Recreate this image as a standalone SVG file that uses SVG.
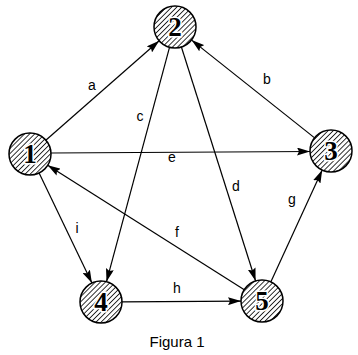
<svg xmlns="http://www.w3.org/2000/svg" width="358" height="355" viewBox="0 0 358 355">
<style>
.edge{stroke:#000;stroke-width:1.2;fill:none;marker-end:url(#arr)}
.node circle{fill:url(#hatch);stroke:#000;stroke-width:1.5}
.num{font-family:"Liberation Serif",serif;font-weight:bold;font-size:27px;text-anchor:middle;fill:#000;stroke:#fff;stroke-width:3;paint-order:stroke}
.lbl{font-family:"Liberation Sans",Arial,sans-serif;font-size:14px;text-anchor:middle;fill:#000}
.cap{font-family:"Liberation Sans",Arial,sans-serif;font-size:15px;text-anchor:middle;fill:#000}
</style>
<defs>
<pattern id="hatch" patternUnits="userSpaceOnUse" width="3.6" height="3.6" patternTransform="rotate(45)">
<rect width="3.6" height="3.6" fill="#fff"/>
<line x1="0" y1="0" x2="0" y2="3.6" stroke="#000" stroke-width="1.6"/>
</pattern>
<marker id="arr" markerUnits="userSpaceOnUse" markerWidth="14" markerHeight="8" refX="13" refY="4" orient="auto">
<path d="M0,0 L13,4 L0,8 L2,4 z" fill="#000"/>
</marker>
</defs>
<rect width="358" height="355" fill="#fff"/>
<g id="connectors">
<line class="edge" x1="45.8" y1="140.2" x2="159.2" y2="40.8"/>
<line class="edge" x1="314.6" y1="137.9" x2="191.6" y2="40.1"/>
<line class="edge" x1="169.5" y1="47.3" x2="106.5" y2="281.7"/>
<line class="edge" x1="181.4" y1="47" x2="255.6" y2="281"/>
<line class="edge" x1="51" y1="153" x2="310" y2="151.5"/>
<line class="edge" x1="244.3" y1="289.8" x2="47.7" y2="165.2"/>
<line class="edge" x1="270.8" y1="281.9" x2="322.2" y2="170.1"/>
<line class="edge" x1="122" y1="301.9" x2="241" y2="301.1"/>
<line class="edge" x1="39.1" y1="172.9" x2="91.9" y2="283.1"/>
<text class="lbl" x="92" y="90">a</text>
<text class="lbl" x="267" y="84">b</text>
<text class="lbl" x="140" y="121">c</text>
<text class="lbl" x="236" y="191">d</text>
<text class="lbl" x="172" y="162">e</text>
<text class="lbl" x="177" y="237">f</text>
<text class="lbl" x="292" y="204">g</text>
<text class="lbl" x="177" y="293">h</text>
<text class="lbl" x="77" y="233">i</text>
</g>
<g id="n1" class="node"><circle cx="30" cy="154" r="21"/><text class="num" x="30" y="163">1</text></g>
<g id="n2" class="node"><circle cx="175" cy="27" r="21"/><text class="num" x="175" y="36">2</text></g>
<g id="n3" class="node"><circle cx="331" cy="151" r="21"/><text class="num" x="331" y="160">3</text></g>
<g id="n4" class="node"><circle cx="101" cy="302" r="21"/><text class="num" x="101" y="311">4</text></g>
<g id="n5" class="node"><circle cx="262" cy="301" r="21"/><text class="num" x="262" y="310">5</text></g>
<text class="cap" x="177" y="347">Figura 1</text>
</svg>
